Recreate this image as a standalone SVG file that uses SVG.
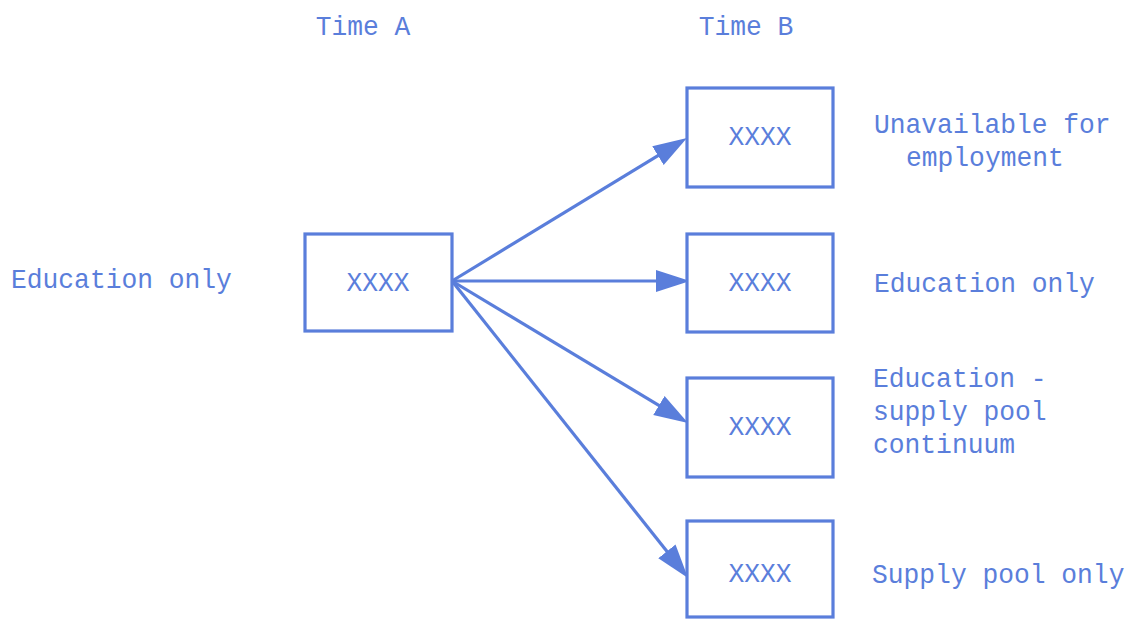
<svg xmlns="http://www.w3.org/2000/svg" width="1133" height="619" viewBox="0 0 1133 619">
  <style>
    .box { fill: #ffffff; stroke: #5a7edb; stroke-width: 3.2; }
    .lbl { font-family: "Liberation Mono", "DejaVu Sans Mono", monospace; font-size: 26.3px; fill: #5a7edb; }
    .mid { text-anchor: middle; }
    .edge { stroke: #5a7edb; stroke-width: 3.2; fill: none; marker-end: url(#head); }
  </style>
  <defs>
    <marker id="head" markerUnits="userSpaceOnUse" markerWidth="36" markerHeight="26" viewBox="0 -13 36 26" refX="14" refY="0" orient="auto">
      <path d="M0,-11 L34,0 L0,11 Z" fill="#5a7edb"/>
    </marker>
  </defs>
  <rect width="1133" height="619" fill="#ffffff"/>

  <!-- column headings -->
  <g id="heading-a"><g transform="translate(363,35) scale(1,1.08)"><text class="lbl mid" x="0" y="0">Time A</text></g></g>
  <g id="heading-b"><g transform="translate(746,35) scale(1,1.08)"><text class="lbl mid" x="0" y="0">Time B</text></g></g>

  <!-- connectors -->
  <g id="connectors">
    <line class="edge" x1="452" y1="281" x2="669.9" y2="148.4"/>
    <line class="edge" x1="452" y1="281" x2="670" y2="281"/>
    <line class="edge" x1="452" y1="281" x2="670.9" y2="412.7"/>
    <line class="edge" x1="452" y1="281" x2="675.6" y2="562.3"/>
  </g>

  <!-- source state -->
  <g id="source">
    <rect class="box" x="305" y="234" width="147" height="97"/>
    <g transform="translate(378,291) scale(1,1.08)"><text class="lbl mid" x="0" y="0">XXXX</text></g>
    <g transform="translate(11,288) scale(1,1.08)"><text class="lbl" x="0" y="0">Education only</text></g>
  </g>

  <!-- destination states -->
  <g id="unavailable">
    <rect class="box" x="687" y="88" width="146" height="99"/>
    <g transform="translate(760,145) scale(1,1.08)"><text class="lbl mid" x="0" y="0">XXXX</text></g>
    <g transform="translate(874,133) scale(1,1.08)"><text class="lbl" x="0" y="0">Unavailable for</text></g>
    <g transform="translate(906,166) scale(1,1.08)"><text class="lbl" x="0" y="0">employment</text></g>
  </g>

  <g id="education-only">
    <rect class="box" x="687" y="234" width="146" height="98"/>
    <g transform="translate(760,291) scale(1,1.08)"><text class="lbl mid" x="0" y="0">XXXX</text></g>
    <g transform="translate(874,292) scale(1,1.08)"><text class="lbl" x="0" y="0">Education only</text></g>
  </g>

  <g id="continuum">
    <rect class="box" x="687" y="378" width="146" height="99"/>
    <g transform="translate(760,435) scale(1,1.08)"><text class="lbl mid" x="0" y="0">XXXX</text></g>
    <g transform="translate(873,387) scale(1,1.08)"><text class="lbl" x="0" y="0">Education -</text></g>
    <g transform="translate(873,420) scale(1,1.08)"><text class="lbl" x="0" y="0">supply pool</text></g>
    <g transform="translate(873,453) scale(1,1.08)"><text class="lbl" x="0" y="0">continuum</text></g>
  </g>

  <g id="supply-pool-only">
    <rect class="box" x="687" y="521" width="146" height="96"/>
    <g transform="translate(760,582) scale(1,1.08)"><text class="lbl mid" x="0" y="0">XXXX</text></g>
    <g transform="translate(872,583) scale(1,1.08)"><text class="lbl" x="0" y="0">Supply pool only</text></g>
  </g>
</svg>
